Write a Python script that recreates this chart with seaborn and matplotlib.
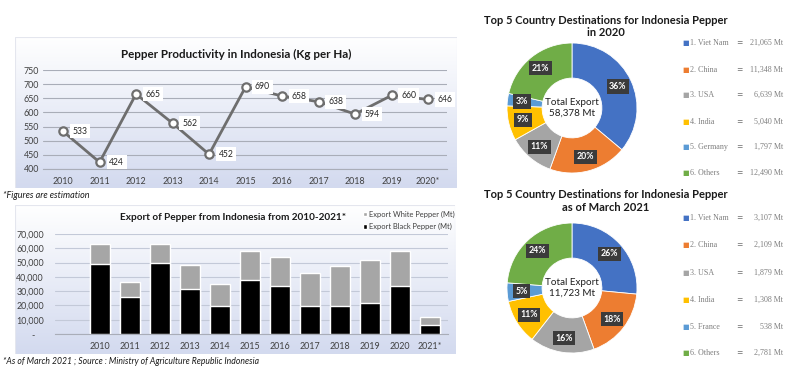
import numpy as np
import pandas as pd
import matplotlib
matplotlib.use("Agg")
import matplotlib.pyplot as plt
import seaborn as sns
from matplotlib.colors import LinearSegmentedColormap
from matplotlib.patches import Patch, Rectangle
from matplotlib.ticker import FuncFormatter

# ---------------- data ----------------
prod_years = ['2010', '2011', '2012', '2013', '2014', '2015', '2016', '2017', '2018', '2019', '2020*']
productivity = [533, 424, 665, 562, 452, 690, 658, 638, 594, 660, 646]

export_years = ['2010', '2011', '2012', '2013', '2014', '2015', '2016', '2017', '2018', '2019', '2020', '2021*']
black_pepper = [49200, 25700, 49700, 31500, 19600, 38000, 33400, 19600, 19400, 21700, 33400, 6300]
white_pepper = [13500, 10700, 13300, 16800, 15200, 20300, 20300, 23300, 28400, 30300, 24978, 5423]

dest_2020_names = ['1. Viet Nam', '2. China', '3. USA', '4. India', '5. Germany', '6. Others']
dest_2020_values = [21065, 11348, 6639, 5040, 1797, 12490]
dest_2020_pct = [36, 20, 11, 9, 3, 21]
total_2020 = 58378

dest_2021_names = ['1. Viet Nam', '2. China', '3. USA', '4. India', '5. France', '6. Others']
dest_2021_values = [3107, 2109, 1879, 1308, 538, 2781]
dest_2021_pct = [26, 18, 16, 11, 5, 24]
total_2021 = 11723

pie_colors = ['#4472C4', '#ED7D31', '#A5A5A5', '#FFC000', '#5B9BD5', '#70AD47']

# ---------------- style ----------------
sns.set_theme(style="white")
plt.rcParams['font.family'] = ['Lato', 'DejaVu Sans']

W, H = 800, 368
fig = plt.figure(figsize=(8, 3.68), dpi=100)
fig.patch.set_facecolor('white')


def rect(l, t, r, b):
    return [l / W, 1 - b / H, (r - l) / W, (b - t) / H]


def fx(x):
    return x / W


def fy(y):
    return 1 - y / H


grad_cmap = LinearSegmentedColormap.from_list('g', ['#ffffff', '#d3daef'])


def panel(l, t, r, b):
    bg = fig.add_axes(rect(l, t, r, b), zorder=0)
    grad = np.linspace(0, 1, 200).reshape(-1, 1)
    bg.imshow(grad, aspect='auto', cmap=grad_cmap, extent=[0, 1, 0, 1], origin='upper')
    bg.set_xlim(0, 1)
    bg.set_ylim(0, 1)
    bg.axis('off')
    bg.add_patch(Rectangle((0, 0), 1, 1, transform=bg.transAxes, fill=False,
                           edgecolor='#e4e6ee', linewidth=0.8))
    return bg


# ---------------- line chart ----------------
panel(15, 37, 457, 188)
ax1 = fig.add_axes(rect(43, 70, 447, 169), zorder=2)
ax1.set_facecolor('none')
df_prod = pd.DataFrame({'pos': np.arange(len(prod_years)), 'year': prod_years, 'kg': productivity})
line_c = '#6e6e6e'
sns.lineplot(data=df_prod, x='pos', y='kg', ax=ax1, color=line_c, linewidth=2.0,
             marker='o', markersize=6, markerfacecolor='white',
             markeredgecolor=line_c, markeredgewidth=1.6, zorder=3)
ax1.set_xlim(-0.55, len(prod_years) - 0.48)
ax1.set_ylim(400, 750)
ax1.set_yticks(range(400, 751, 50))
ax1.set_xticks(df_prod['pos'])
ax1.set_xticklabels(prod_years)
ax1.set_xlabel('')
ax1.set_ylabel('')
ax1.grid(axis='y', color='#a9adb8', linewidth=0.8)
ax1.set_axisbelow(True)
for s in ['top', 'right', 'left']:
    ax1.spines[s].set_visible(False)
ax1.spines['bottom'].set_color('#a9adb8')
ax1.spines['bottom'].set_linewidth(0.8)
ax1.tick_params(axis='both', length=0, labelsize=6.4, labelcolor='#404040')
ax1.tick_params(axis='x', pad=6)
ax1.tick_params(axis='y', pad=3)
for i, v in enumerate(productivity):
    ax1.annotate(str(v), (i, v), xytext=(17, 0), textcoords='offset pixels',
                 ha='center', va='center', fontsize=6.2, color='#262626', zorder=5,
                 bbox=dict(boxstyle='square,pad=0.3', facecolor='white', edgecolor='none'))
fig.text(fx(236), fy(54), 'Pepper Productivity in Indonesia (Kg per Ha)', ha='center', va='center',
         fontsize=8.4, fontweight='bold', color='#1a1a1a')
fig.text(fx(3), fy(195), '*Figures are estimation', ha='left', va='center',
         fontsize=6.5, style='italic', color='#1a1a1a')

# ---------------- stacked bar chart ----------------
panel(15, 205, 455, 354)
ax2 = fig.add_axes(rect(55, 234, 448, 334), zorder=2)
ax2.set_facecolor('none')
df_exp = pd.DataFrame({'year': export_years, 'black': black_pepper, 'white': white_pepper})
df_exp['total'] = df_exp['black'] + df_exp['white']
sns.barplot(data=df_exp, x='year', y='total', color='#a6a6a6', saturation=1, width=0.64,
            ax=ax2, zorder=2)
sns.barplot(data=df_exp, x='year', y='black', color='#000000', saturation=1, width=0.64,
            ax=ax2, zorder=3)
ax2.set_xlim(-1.5, len(export_years) - 0.4)
ax2.set_ylim(0, 70000)
ax2.set_yticks(range(0, 70001, 10000))
ax2.yaxis.set_major_formatter(FuncFormatter(lambda v, p: '-    ' if v == 0 else f'{int(v):,}'))
ax2.set_xlabel('')
ax2.set_ylabel('')
ax2.grid(axis='y', color='#c3c9d8', linewidth=0.8)
ax2.set_axisbelow(True)
for s in ['top', 'right', 'left']:
    ax2.spines[s].set_visible(False)
ax2.spines['bottom'].set_color('#a9adb8')
ax2.spines['bottom'].set_linewidth(0.8)
ax2.tick_params(axis='both', length=0, labelsize=6.4, labelcolor='#404040')
ax2.tick_params(axis='x', pad=6)
ax2.tick_params(axis='y', pad=8)
handles = [Patch(facecolor='#a6a6a6', label='Export White Pepper (Mt)'),
           Patch(facecolor='#000000', label='Export Black Pepper (Mt)')]
ax2.legend(handles=handles, loc='upper left', bbox_to_anchor=(fx(359), fy(207)),
           bbox_transform=fig.transFigure, frameon=False, fontsize=5.4,
           handlelength=0.5, handleheight=0.5, handletextpad=0.3, labelspacing=0.7,
           borderpad=0, labelcolor='#404040')
fig.text(fx(233), fy(218), 'Export of Pepper from Indonesia from 2010-2021*', ha='center', va='center',
         fontsize=7.2, fontweight='bold', color='#1a1a1a')
fig.text(fx(3), fy(362), '*As of March 2021 ; Source : Ministry of Agriculture Republic Indonesia',
         ha='left', va='center', fontsize=6.2, style='italic', color='#1a1a1a')


# ---------------- donuts ----------------
def donut(cy, title_y, values, pct, names, total, legend_ys):
    ax = fig.add_axes(rect(572 - 65, cy - 65, 572 + 65, cy + 65), zorder=2)
    wedges, _ = ax.pie(values, colors=pie_colors, startangle=90, counterclock=False,
                       radius=1, wedgeprops=dict(width=0.54, edgecolor='white', linewidth=0.6))
    ax.set_xlim(-1, 1)
    ax.set_ylim(-1, 1)
    for w, p in zip(wedges, pct):
        ang = np.deg2rad((w.theta1 + w.theta2) / 2)
        ax.text(0.78 * np.cos(ang), 0.78 * np.sin(ang), f'{p}%', ha='center', va='center',
                fontsize=6.3, fontweight='bold', color='white',
                bbox=dict(boxstyle='square,pad=0.3', facecolor='#3b3b3b', edgecolor='none'))
    ax.text(0, 0, f'Total Export\n{total:,} Mt', ha='center', va='center', fontsize=7.1,
            color='#1f1f1f', linespacing=1.2)
    fig.text(fx(606), fy(title_y[0]), 'Top 5 Country Destinations for Indonesia Pepper',
             ha='center', va='center', fontsize=8.0, fontweight='bold', color='#1a1a1a')
    fig.text(fx(606), fy(title_y[1]), title_y[2],
             ha='center', va='center', fontsize=8.0, fontweight='bold', color='#1a1a1a')
    for y, n, v, c in zip(legend_ys, names, values, pie_colors):
        fig.text(fx(686), fy(y), '■', ha='center', va='center', fontsize=5, color=c,
                 family='DejaVu Sans')
        fig.text(fx(690), fy(y), n, ha='left', va='center', fontsize=5.8, color='#7f7f7f',
                 family='Liberation Serif')
        fig.text(fx(736), fy(y), '=', ha='left', va='center', fontsize=5.5, color='#6f6f6f',
                 family='DejaVu Sans')
        fig.text(fx(783), fy(y), f'{v:,} Mt', ha='right', va='center', fontsize=5.8,
                 color='#7f7f7f', family='Liberation Serif')


donut(108, (20, 33, 'in 2020'), dest_2020_values, dest_2020_pct, dest_2020_names, total_2020,
      [43, 70, 95, 122, 147, 173])
donut(288, (195, 208, 'as of March 2021'), dest_2021_values, dest_2021_pct, dest_2021_names,
      total_2021, [218, 245, 273, 300, 327, 353])

fig.savefig('out.png', dpi=100, facecolor='white')
